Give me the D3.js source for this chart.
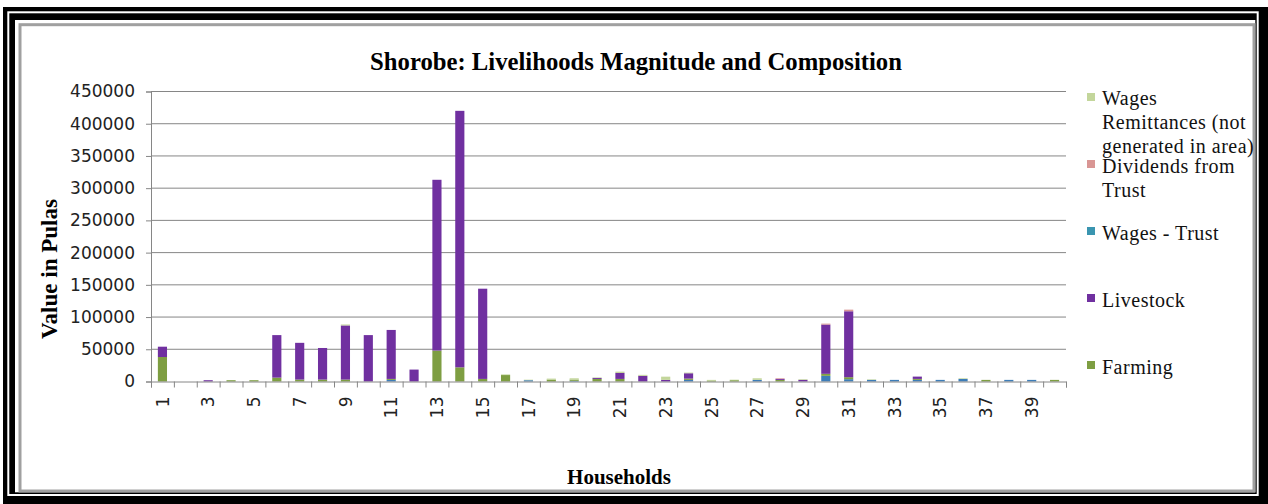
<!DOCTYPE html>
<html>
<head>
<meta charset="utf-8">
<script src="https://cdn.jsdelivr.net/npm/d3@7"></script>
<style>
  body { margin: 0; background: #fff; }
  svg { display: block; }
</style>
</head>
<body>
<svg></svg>
<script>
///////////////////////////////////////////
// Data (values in Pulas)
var households = [1, 2, 3, 4, 5, 6, 7, 8, 9, 10, 11, 12, 13, 14, 15, 16, 17, 18, 19, 20,
                  21, 22, 23, 24, 25, 26, 27, 28, 29, 30, 31, 32, 33, 34, 35, 36, 37, 38, 39, 40];

// bottom blue series - its legend entry is cut off in the original
var otherWages = [0, 0, 0, 0, 0, 0, 0, 0, 0, 0, 2500, 0, 0, 0, 0, 0, 2000, 0, 1000, 0,
                  0, 0, 0, 2500, 0, 0, 2500, 0, 0, 8800, 3600, 2500, 2500, 2500, 2500, 4000, 0, 2500, 2500, 0];
var farming = [38000, 0, 0, 2000, 2000, 6000, 3000, 3000, 3000, 0, 1500, 0, 48000, 22000, 4000, 10000, 0, 3000, 2000, 4000,
               4000, 0, 0, 2000, 1500, 2000, 0, 2500, 0, 3100, 3100, 0, 0, 1500, 0, 0, 2500, 0, 0, 2500];
var livestock = [16000, 0, 2000, 0, 0, 66000, 57000, 49000, 84000, 72000, 76000, 18500, 265000, 398000, 140000, 0, 0, 0, 0, 1500,
                 9300, 8800, 2500, 8300, 0, 0, 0, 1500, 2500, 76400, 102300, 0, 0, 3600, 0, 0, 0, 0, 0, 0];
var wagesTrust = [0, 0, 0, 0, 0, 0, 0, 0, 0, 0, 0, 0, 0, 0, 0, 0, 0, 0, 0, 0,
                  0, 0, 0, 0, 0, 0, 0, 0, 0, 0, 0, 0, 0, 0, 0, 0, 0, 0, 0, 0];
var dividends = [0, 0, 0, 0, 0, 0, 0, 0, 0, 0, 0, 0, 0, 0, 0, 0, 0, 0, 0, 0,
                 0, 0, 0, 0, 0, 0, 0, 1000, 0, 1500, 2500, 0, 0, 0, 0, 0, 0, 0, 0, 0];
var remittances = [0, 0, 0, 0, 0, 0, 0, 0, 1500, 0, 0, 0, 0, 0, 0, 1000, 800, 1500, 2000, 800,
                   2000, 1500, 5000, 1000, 1000, 800, 2500, 0, 1000, 0, 0, 800, 0, 0, 0, 1000, 0, 0, 0, 0];

var legendNames = ["Wages Remittances (not generated in area)", "Dividends from Trust",
                   "Wages - Trust", "Livestock", "Farming"];

///////////////////////////////////////////
// Layout Setting
var svgWidth = 1268,
    svgHeight = 504;
var plot = {left: 151, right: 1066, top: 91.5, bottom: 381.5};

var keys = ["other", "farming", "livestock", "wagesTrust", "dividends", "remittances"];
var colors = {
  other: "#3d7db8",
  farming: "#7e9e42",
  livestock: "#7030a0",
  wagesTrust: "#3a95b0",
  dividends: "#d99694",
  remittances: "#c3d69b"
};
var legendKeys = ["remittances", "dividends", "wagesTrust", "livestock", "farming"];

var axisColor = "#868686";
var serif = "'Liberation Serif', 'Times New Roman', serif";
var sans = "'DejaVu Sans', Verdana, sans-serif";

// build the table for d3.stack
var table = households.map(function(h, i) {
  return {
    household: h,
    other: otherWages[i],
    farming: farming[i],
    livestock: livestock[i],
    wagesTrust: wagesTrust[i],
    dividends: dividends[i],
    remittances: remittances[i]
  };
});

var svg = d3.select("svg").attr("width", svgWidth).attr("height", svgHeight);

///////////////////////////////////////////
// Frame (double black border + grey inner line)
svg.append("rect").attr("x", 3).attr("y", 7).attr("width", 1265).attr("height", 497).attr("fill", "#000");
svg.append("rect").attr("x", 8.3).attr("y", 12.3).attr("width", 1249.4).attr("height", 482.7)
   .attr("fill", "none").attr("stroke", "#fff").attr("stroke-width", 2);
svg.append("rect").attr("x", 15).attr("y", 20).attr("width", 1240.3).attr("height", 472.3).attr("fill", "#fff");
svg.append("rect").attr("x", 20).attr("y", 24.7).attr("width", 1234).attr("height", 466.3)
   .attr("fill", "none").attr("stroke", "#a0a0a0").attr("stroke-width", 3);

///////////////////////////////////////////
// Scales
var x = d3.scaleBand().domain(households).range([plot.left, plot.right])
          .paddingInner(0.6).paddingOuter(0.3);
var xEdge = d3.scaleLinear().domain([0, households.length]).range([plot.left, plot.right]);
var y = d3.scaleLinear().domain([0, 450000]).range([plot.bottom, plot.top]);

// gridlines
svg.append("g").selectAll("line").data(y.ticks(9).filter(function(d) { return d > 0; }))
  .enter().append("line")
  .attr("x1", plot.left).attr("x2", plot.right)
  .attr("y1", function(d) { return y(d); }).attr("y2", function(d) { return y(d); })
  .attr("stroke", axisColor).attr("stroke-width", 1);

///////////////////////////////////////////
// Stacked bars
var stacked = d3.stack().keys(keys)(table);
svg.append("g").selectAll("g").data(stacked).enter().append("g")
  .attr("fill", function(s) { return colors[s.key]; })
  .selectAll("rect").data(function(s) { return s; }).enter().append("rect")
  .attr("x", function(d) { return x(d.data.household); })
  .attr("width", x.bandwidth())
  .attr("y", function(d) { return y(d[1]); })
  .attr("height", function(d) { return y(d[0]) - y(d[1]); });

///////////////////////////////////////////
// Axes
var yAxis = svg.append("g").attr("transform", "translate(" + plot.left + ",0)")
  .call(d3.axisLeft(y).ticks(9).tickSize(5).tickPadding(11).tickFormat(d3.format("d")));
yAxis.selectAll("text").attr("font-family", sans).attr("font-size", 17).attr("fill", "#222");

// category boundary ticks
var xTicks = svg.append("g").attr("transform", "translate(0," + plot.bottom + ")")
  .call(d3.axisBottom(xEdge).tickValues(d3.range(0, households.length + 1)).tickSize(6).tickFormat(""));

// category labels (every second one)
var xLabels = svg.append("g").attr("transform", "translate(0," + plot.bottom + ")")
  .call(d3.axisBottom(x).tickSize(0).tickFormat(function(d) { return d % 2 ? d : ""; }));
xLabels.select(".domain").remove();
xLabels.selectAll("text")
  .attr("transform", "rotate(-90)")
  .attr("x", -15).attr("y", 0).attr("dy", "0.36em")
  .attr("text-anchor", "end")
  .attr("font-family", sans).attr("font-size", 17).attr("fill", "#222");

[yAxis, xTicks].forEach(function(a) {
  a.selectAll(".domain, line").attr("stroke", axisColor);
});

///////////////////////////////////////////
// Titles
svg.append("text").attr("x", 636).attr("y", 70).attr("text-anchor", "middle")
  .attr("font-family", serif).attr("font-weight", "bold").attr("font-size", 24.7)
  .text("Shorobe: Livelihoods Magnitude and Composition");

svg.append("text").attr("transform", "translate(57,269) rotate(-90)").attr("text-anchor", "middle")
  .attr("font-family", serif).attr("font-weight", "bold").attr("font-size", 23)
  .text("Value in Pulas");

svg.append("text").attr("x", 619).attr("y", 484).attr("text-anchor", "middle")
  .attr("font-family", serif).attr("font-weight", "bold").attr("font-size", 21)
  .text("Households");

///////////////////////////////////////////
// Legend
var legendLines = [["Wages", "Remittances (not", "generated in area)"],
                   ["Dividends from", "Trust"], ["Wages - Trust"], ["Livestock"], ["Farming"]];
var legend = svg.append("g");
legendKeys.forEach(function(k, i) {
  var cy = 97 + 67 * i;
  legend.append("rect").attr("x", 1087).attr("y", cy - 4).attr("width", 8).attr("height", 8)
    .attr("fill", colors[k]);
  var t = legend.append("text").attr("x", 1102).attr("y", (i === 0 ? cy + 8 : cy + 9))
    .attr("font-family", serif).attr("font-size", 20).attr("letter-spacing", 0.5).attr("fill", "#111");
  legendLines[i].forEach(function(line, j) {
    t.append("tspan").attr("x", 1102).attr("dy", j === 0 ? 0 : 23.8).text(line);
  });
  t.append("title").text(legendNames[i]);
});
</script>
</body>
</html>
